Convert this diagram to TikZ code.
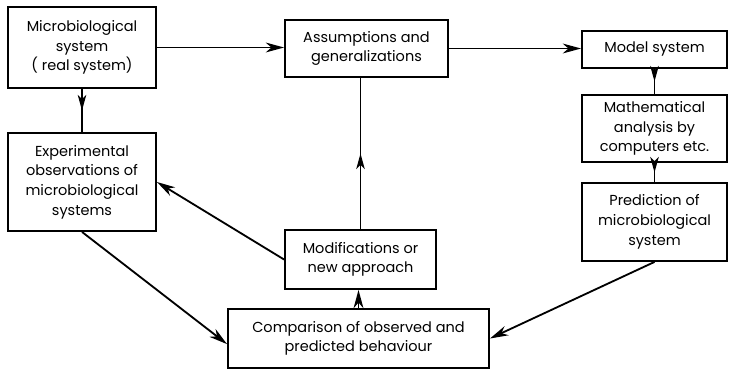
\documentclass[tikz,border=0pt]{standalone}
\usepackage{fontspec}
\setmainfont{Poppins}
\usetikzlibrary{arrows.meta, calc, decorations.markings}
\tikzset{box/.style={draw, rectangle, line width=1.3pt, align=center, font=\fontsize{10.3}{14}\selectfont}}
\tikzset{flow/.style={line width=1.3pt, -{Stealth[length=13pt,width=7pt,inset=4pt]}}}
\tikzset{midflow/.style={line width=1.3pt, decoration={markings, mark=at position 0.5 with {\arrow{Stealth[length=11pt,width=6pt,inset=3pt]}}}, postaction={decorate}}}

\begin{document}
\begin{tikzpicture}[x=0.025cm,y=-0.025cm]
\useasboundingbox (0,0) rectangle (730,369);
\node[box,minimum width=3.7cm,minimum height=2.025cm] (real) at (82,47.5) {Microbiological\\system\\( real system)};
\node[box,minimum width=3.7cm,minimum height=2.45cm] (expt) at (82,182) {Experimental\\observations of\\microbiological\\systems};
\node[box,minimum width=4.075cm,minimum height=1.425cm] (assume) at (366.5,48.5) {Assumptions and\\generalizations};
\node[box,minimum width=3.625cm,minimum height=0.925cm] (model) at (654.5,49.5) {Model system};
\node[box,minimum width=3.625cm,minimum height=1.675cm] (maths) at (654.5,128.5) {Mathematical\\analysis by\\computers etc.};
\node[box,minimum width=3.625cm,minimum height=1.95cm] (predict) at (654.5,222) {Prediction of\\microbiological\\system};
\node[box,minimum width=3.775cm,minimum height=1.475cm] (modify) at (360.5,259.5) {Modifications or\\new approach};
\node[box,minimum width=6.525cm,minimum height=1.475cm] (compare) at (358.5,338.5) {Comparison of observed and\\predicted behaviour};

\draw[flow] (real.east) -- (real.east -| assume.west);
\draw[flow] (assume.east) -- (assume.east -| model.west);
\draw[midflow] (real.south) -- (expt.north);
\draw[midflow] (model.south) -- (maths.north);
\draw[midflow] (maths.south) -- (predict.north);
\draw[midflow] (modify.north) -- (modify.north |- assume.south);
\draw[flow] (modify.west) -- (expt.east);
\draw[flow] (expt.south) -- ([yshift=-4pt]compare.west);
\draw[flow] (predict.south) -- (compare.east);
\draw[flow] (compare.north) -- (compare.north |- modify.south);
\end{tikzpicture}
\end{document}
